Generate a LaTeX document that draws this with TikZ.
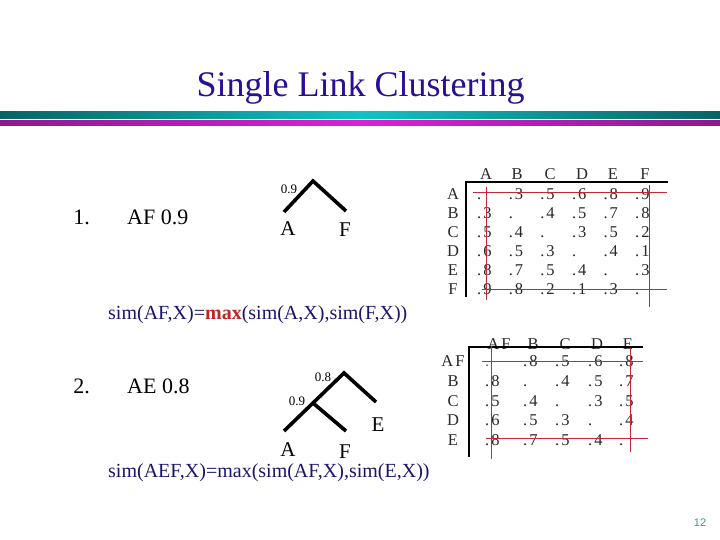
\documentclass[tikz,border=0pt]{standalone}
\usepackage{fontspec}
\setmainfont{Liberation Serif}
\newfontfamily\pnfont{Liberation Sans}
\newfontfamily\cellfont[LetterSpace=12]{Liberation Serif}
\definecolor{titleblue}{RGB}{42,14,150}
\definecolor{navy}{RGB}{26,22,110}
\definecolor{maxred}{RGB}{192,36,36}
\definecolor{tealdark}{RGB}{8,100,100}
\definecolor{tealmid}{RGB}{14,196,196}
\definecolor{magdark}{RGB}{140,26,140}
\definecolor{magmid}{RGB}{214,36,210}
\definecolor{gridred}{RGB}{196,40,48}
\definecolor{pageteal}{RGB}{50,150,150}
\definecolor{celltext}{RGB}{40,40,40}
\begin{document}
\begin{tikzpicture}[x=1pt,y=-1pt,
  titletext/.style={font=\fontsize{36}{40}\selectfont, text=titleblue, inner sep=0pt},
  bodytext/.style={font=\fontsize{22}{26}\selectfont, inner sep=0pt},
  simtext/.style={font=\fontsize{20}{24}\selectfont, text=navy, inner sep=0pt},
  leaf/.style={font=\fontsize{21}{24}\selectfont, inner sep=0pt},
  height/.style={font=\fontsize{13}{15}\selectfont, inner sep=0pt},
  cell/.style={font=\cellfont\fontsize{16.5}{18}\selectfont, text=celltext, inner sep=0pt},
  branch/.style={line width=3.6pt, line cap=butt},
  axisline/.style={line width=2.6pt},
  gridline/.style={draw=gridred, line width=0.9pt}]
\useasboundingbox (0,0) rectangle (720,540);
\fill[white] (0,0) rectangle (720,540);
% title and bars
\node[titletext, anchor=base] (title) at (360.5,97) {Single Link Clustering};
\fill[left color=tealdark, right color=tealdark, middle color=tealmid] (0,112) rectangle (720,119);
\fill[left color=magdark, right color=magdark, middle color=magmid] (0,121) rectangle (720,125.5);
% step 1
\node[bodytext] (n1) at (81.5,217) {1.};
\node[bodytext, anchor=west] (af09) at (127,217) {AF 0.9};
\coordinate (t1a) at (284,212);
\coordinate (t1top) at (313,181);
\coordinate (t1f) at (346,211);
\draw[branch] (t1a) -- (t1top) -- (t1f);
\node[height] (h1) at (289,189.5) {0.9};
\node[leaf] (la1) at (288,228.5) {A};
\node[leaf] (lf1) at (345,230) {F};
\node[simtext, anchor=west] (sim1) at (108,314.5) {sim(AF,X)=\textcolor{maxred}{\textbf{max}}(sim(A,X),sim(F,X))};
% matrix 1
\foreach \h [count=\j] in {A,B,C,D,E,F} {
  \pgfmathsetmacro{\hx}{{486,517,550,582,613,645}[\j-1]}
  \node[cell, anchor=base] (m1h\j) at (\hx,180) {\h};
  \node[cell, anchor=base] (m1r\j) at (453,{194+19*(\j-1)+5.4}) {\h};
}
\foreach \row [count=\i] in {{.,.3,.5,.6,.8,.9},{.3,.,.4,.5,.7,.8},{.5,.4,.,.3,.5,.2},{.6,.5,.3,.,.4,.1},{.8,.7,.5,.4,.,.3},{.9,.8,.2,.1,.3,.}} {
  \foreach \v [count=\j] in \row {
    \node[cell, anchor=base west] (m1c\i\j) at ({477+31.6*(\j-1)},{194+19*(\i-1)+5.4}) {\v};
  }
}
\coordinate (m1o) at (466,182);
\coordinate (m1b) at (466,297);
\coordinate (m1r) at (668,182);
\draw[axisline] (m1b) -- (m1o) -- (m1r);
\coordinate (m1h1a) at (473,192); \coordinate (m1h1b) at (667,192);
\coordinate (m1h2a) at (482,289); \coordinate (m1h2b) at (667,289);
\coordinate (m1v1a) at (486,187); \coordinate (m1v1b) at (486,300);
\coordinate (m1v2a) at (649,185); \coordinate (m1v2b) at (649,307);
\draw[gridline] (m1h1a) -- (m1h1b);
\draw[gridline] (m1h2a) -- (m1h2b);
\draw[gridline] (m1v1a) -- (m1v1b);
\draw[gridline] (m1v2a) -- (m1v2b);
% step 2
\node[bodytext] (n2) at (81.5,386) {2.};
\node[bodytext, anchor=west] (ae08) at (127,386) {AE 0.8};
\coordinate (t2a) at (284,431);
\coordinate (t2mid) at (313,403);
\coordinate (t2top) at (344,373);
\coordinate (t2e) at (376,402);
\coordinate (t2f) at (346,431);
\draw[branch] (t2a) -- (t2top) -- (t2e);
\draw[branch] (t2mid) -- (t2f);
\node[height] (h2a) at (323,377.5) {0.8};
\node[height] (h2b) at (297,401) {0.9};
\node[leaf] (le2) at (378,425) {E};
\node[leaf] (la2) at (288,449.5) {A};
\node[leaf] (lf2) at (345,452) {F};
\node[simtext, anchor=west] (sim2) at (108,473) {sim(AEF,X)=max(sim(AF,X),sim(E,X))};
% matrix 2
\foreach \h [count=\j] in {AF,B,C,D,E} {
  \pgfmathsetmacro{\hx}{{499,533,565,597,628}[\j-1]}
  \pgfmathsetmacro{\ry}{{361,381,401,420,440}[\j-1]}
  \node[cell, anchor=base] (m2h\j) at (\hx,349.5) {\h};
  \node[cell, anchor=base] (m2r\j) at (453,{\ry+5.4}) {\h};
}
\foreach \row [count=\i] in {{,.8,.5,.6,.8},{.8,.,.4,.5,.7},{.5,.4,.,.3,.5},{.6,.5,.3,.,.4},{.8,.7,.5,.4,.}} {
  \foreach \v [count=\j] in \row {
    \pgfmathsetmacro{\cx}{{485,523,555,588,619}[\j-1]}
    \pgfmathsetmacro{\ry}{{361,381,401,420,440}[\i-1]}
    \node[cell, anchor=base west] (m2c\i\j) at (\cx,{\ry+5.4}) {\v};
  }
}
\node[cell, anchor=base west, text=pageteal] (m2dot) at (485,366.4) {.};
\coordinate (m2o) at (469,347);
\coordinate (m2b) at (469,457);
\coordinate (m2r) at (643,347);
\draw[axisline] (m2b) -- (m2o) -- (m2r);
\coordinate (m2h1a) at (482,361); \coordinate (m2h1b) at (643,361);
\coordinate (m2h2a) at (486,438); \coordinate (m2h2b) at (648,438);
\coordinate (m2v1a) at (491,346); \coordinate (m2v1b) at (491,459);
\coordinate (m2v2a) at (630,348); \coordinate (m2v2b) at (630,452);
\draw[gridline] (m2h1a) -- (m2h1b);
\draw[gridline] (m2h2a) -- (m2h2b);
\draw[gridline] (m2v1a) -- (m2v1b);
\draw[gridline] (m2v2a) -- (m2v2b);
% page number
\node[font=\pnfont\fontsize{11}{13}\selectfont, text=pageteal, inner sep=0pt] (pnum) at (700,523) {12};
\end{tikzpicture}
\end{document}
